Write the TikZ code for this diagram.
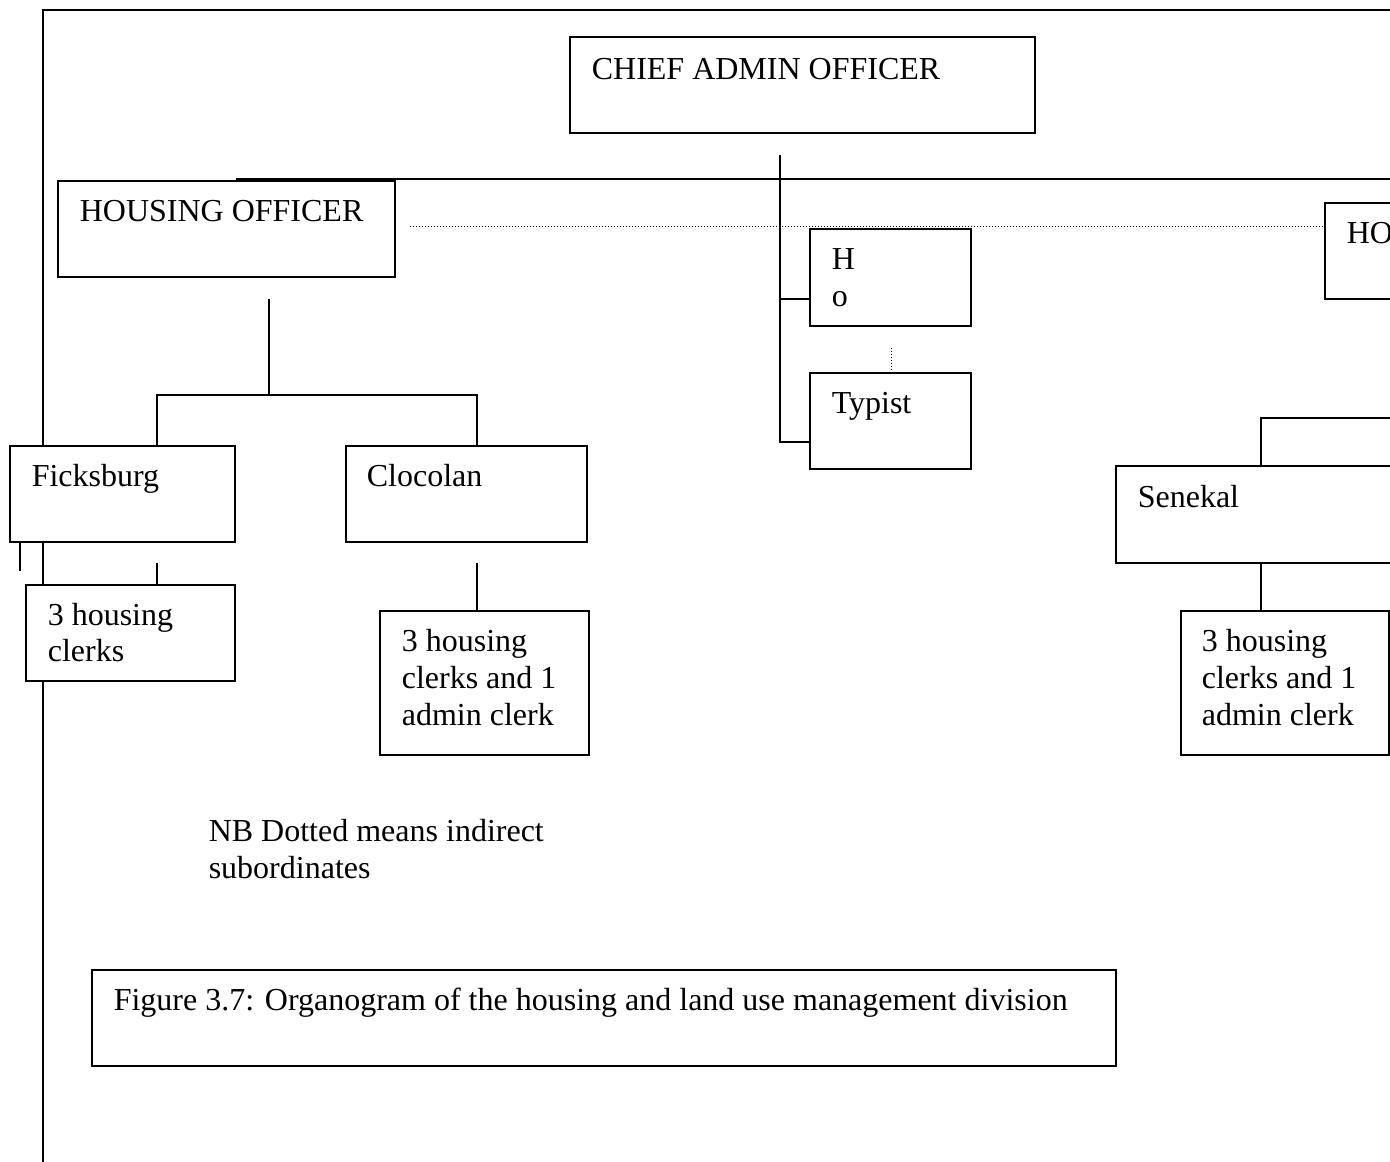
\documentclass[tikz,border=0pt]{standalone}
\usepackage{fontspec}
\setmainfont{Liberation Serif}
\usetikzlibrary{calc}

\tikzset{every picture/.style={line width=1.2pt}}
\tikzset{
  orgbox/.style={draw, fill=white, rectangle, inner sep=0pt, outer sep=0pt, anchor=north west},
  wh/.style 2 args={minimum width=#1*0.75pt, minimum height=#2*0.75pt},
  orgtext/.style={anchor=base west, inner sep=0pt, align=left, font=\fontsize{24}{27.75}\selectfont},
  indirect/.style={line width=0.75pt, dash pattern=on 0.75pt off 1.5pt}
}

\begin{document}
\begin{tikzpicture}[x=0.75pt,y=0.75pt,yscale=-1,xscale=1]
\useasboundingbox (0,0) rectangle (1390,1162);
\clip (0,0) rectangle (1390,1162);

%Frame lines
\draw (43,1162) -- (43,10) -- (1390,10);

%Coordinates for the lines
\coordinate (spine) at (780,155);
\coordinate (topL) at (236,179);
\coordinate (topR) at (1390,179);
\coordinate (dotL) at (410,227);
\coordinate (hodown) at (269,299);
\coordinate (barL) at (157,395);
\coordinate (barR) at (477,395);
\coordinate (senbar) at (1390,418);
\coordinate (senj) at (1261,418);

%Boxes
\node[orgbox, wh={465}{96}] (cao) at (570,37) {};
\node[orgbox, wh={337}{96}] (ho) at (58,181) {};
\node[orgbox, wh={161}{97}] (hobox) at (810,229) {};
\node[orgbox, wh={161}{96}] (typist) at (810,373) {};
\node[orgbox, wh={120}{96}] (hoR) at (1325,203) {};
\node[orgbox, wh={225}{96}] (fick) at (10,446) {};
\node[orgbox, wh={241}{96}] (cloc) at (346,446) {};
\node[orgbox, wh={209}{96}] (fickclerks) at (26,585) {};
\node[orgbox, wh={209}{144}] (cloclerks) at (380,611) {};
\node[orgbox, wh={300}{97}] (sen) at (1116,466) {};
\node[orgbox, wh={208}{144}] (senclerks) at (1181,611) {};
\node[orgbox, wh={1024}{96}] (caption) at (92,970) {};

%Straight Lines
\draw (topL) -- (topR);
\draw (spine) |- ($(typist.south west)+(0,-27)$);
\draw ($(spine |- hobox.south west)+(0,-27)$) -- ($(hobox.south west)+(0,-27)$);
\draw (hodown) -- (hodown |- barL);
\draw (barL |- fick.north) -- (barL) -- (barR) -- (barR |- cloc.north);
\draw ($(barL |- fick.south)+(0,21)$) -- (barL |- fickclerks.north);
\draw ($(fick.south west)+(10,0)$) -- ++(0,29);
\draw ($(barR |- cloc.south)+(0,21)$) -- (barR |- cloclerks.north);
\draw (senbar) -- (senj) -- (senj |- sen.north);
\draw (senj |- sen.south) -- (senj |- senclerks.north);

%Dotted Lines
\draw[indirect] (dotL) -- (dotL -| hoR.west);
\draw[indirect] ($(typist.north)+(1,0)$) -- ++(0,-26);

% Text Node
\node[orgtext] (caotxt) at ($(cao.north west)+(21,43)$) {CHIEF ADMIN OFFICER};
% Text Node
\node[orgtext] (hotxt) at ($(ho.north west)+(21,41)$) {HOUSING OFFICER};
% Text Node
\node[orgtext] (hoboxtxt) at ($(hobox.north west)+(21,78)$) {H\\o};
% Text Node
\node[orgtext] (typisttxt) at ($(typist.north west)+(21,41)$) {Typist};
% Text Node
\node[orgtext] (hoRtxt) at ($(hoR.north west)+(21,41)$) {HO};
% Text Node
\node[orgtext] (ficktxt) at ($(fick.north west)+(21,41)$) {Ficksburg};
% Text Node
\node[orgtext] (cloctxt) at ($(cloc.north west)+(20,41)$) {Clocolan};
% Text Node
\node[orgtext] (fickclerkstxt) at ($(fickclerks.north west)+(21,77)$) {3 housing\\clerks};
% Text Node
\node[orgtext] (cloclerkstxt) at ($(cloclerks.north west)+(21,114)$) {3 housing\\clerks and 1\\admin clerk};
% Text Node
\node[orgtext] (sentxt) at ($(sen.north west)+(21,42)$) {Senekal};
% Text Node
\node[orgtext] (senclerkstxt) at ($(senclerks.north west)+(20,114)$) {3 housing\\clerks and 1\\admin clerk};
% Text Node
\node[orgtext] (nbtxt) at (208,878) {NB Dotted means indirect\\subordinates};
% Text Node
\node[orgtext] (captiontxt) at ($(caption.north west)+(21,40)$) {Figure 3.7: Organogram of the housing and land use management division};

\end{tikzpicture}
\end{document}
